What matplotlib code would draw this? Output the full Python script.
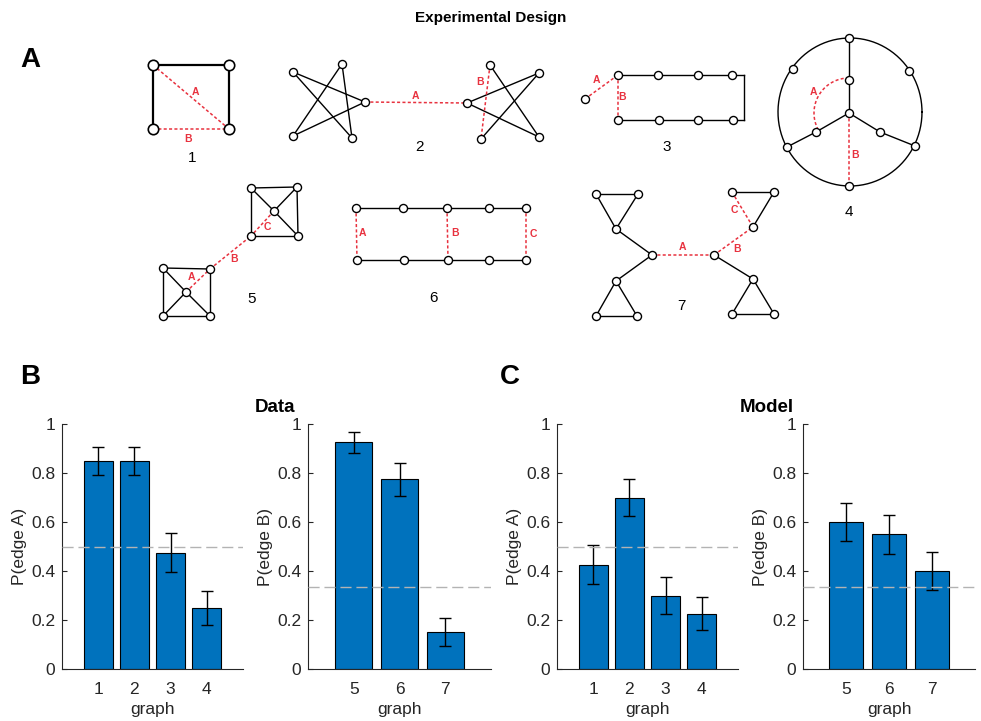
import numpy as np
import matplotlib
matplotlib.use("Agg")
import matplotlib.pyplot as plt

plt.rcParams['font.family'] = ['Liberation Sans', 'DejaVu Sans']

# ---- bar data ----
graphs_a = [1, 2, 3, 4]
graphs_b = [5, 6, 7]
data_a = [0.85, 0.85, 0.475, 0.25]
data_a_err = [0.057, 0.057, 0.08, 0.07]
data_b = [0.925, 0.775, 0.15]
data_b_err = [0.044, 0.067, 0.057]
model_a = [0.425, 0.70, 0.30, 0.225]
model_a_err = [0.08, 0.074, 0.074, 0.067]
model_b = [0.60, 0.55, 0.40]
model_b_err = [0.079, 0.079, 0.079]
chance_a = 0.5
chance_b = 1 / 3

# ---- network sketches (pixel positions of nodes, edges by index) ----
RED = '#e8323f'
# each graph: nodes, black edges, red dashed edges, edge labels, number label
g1_nodes = [(153, 65), (229, 65), (153, 129), (229, 129)]
g1_black = [(0, 1), (0, 2), (1, 3)]
g1_red = [(0, 3), (2, 3)]
g1_text = [('A', 195, 92), ('B', 188, 139), ('1', 192, 158)]

g2_nodes = [(293, 72), (342, 64), (365, 102), (293, 136), (352, 138),
            (467, 103), (490, 65), (539, 73), (539, 137), (481, 139)]
g2_black = [(2, 0), (0, 4), (4, 1), (1, 3), (3, 2),
            (5, 7), (7, 9), (6, 8), (8, 5)]
g2_red = [(2, 5), (6, 9)]
g2_text = [('A', 415, 96), ('B', 480, 82), ('2', 419, 147)]

g3_nodes = [(618, 75), (658, 75), (698, 75), (732, 75),
            (618, 120), (659, 120), (698, 120), (733, 120), (585, 99),
            (744, 75), (744, 120)]
g3_black = [(0, 1), (1, 2), (2, 3), (3, 9), (9, 10), (10, 7), (7, 6), (6, 5), (5, 4)]
g3_red = [(8, 0), (0, 4)]
g3_hidden = [9, 10]
g3_text = [('A', 596, 80), ('B', 622, 97), ('3', 667, 147)]

g4_nodes = [(849, 38), (793, 69), (909, 71), (787, 147), (915, 146), (849, 186),
            (849, 113), (849, 80), (816, 132), (880, 132)]
g4_black = [(0, 7), (7, 6), (6, 8), (8, 3), (6, 9), (9, 4)]
g4_red = [(6, 5)]
g4_circle = (850, 112, 72, 74)
g4_arc = (849, 113, 35, 90, 206)
g4_text = [('A', 813, 92), ('B', 855, 155), ('4', 849, 212)]

g5_nodes = [(251, 188), (297, 187), (251, 236), (298, 236), (274, 211),
            (163, 268), (210, 269), (163, 316), (210, 316), (186, 292)]
g5_black = [(0, 1), (1, 3), (3, 2), (2, 0), (4, 0), (4, 1), (4, 3),
            (5, 6), (6, 8), (8, 7), (7, 5), (9, 5), (9, 7), (9, 8)]
g5_red = [(4, 2), (9, 6), (6, 2)]
g5_text = [('C', 267, 227), ('A', 191, 277), ('B', 234, 259), ('5', 252, 299)]

g6_nodes = [(356, 208), (403, 208), (447, 208), (489, 208), (526, 208),
            (357, 260), (404, 260), (448, 260), (489, 260), (526, 260)]
g6_black = [(0, 1), (1, 2), (2, 3), (3, 4), (5, 6), (6, 7), (7, 8), (8, 9)]
g6_red = [(0, 5), (2, 7), (4, 9)]
g6_text = [('A', 362, 233), ('B', 455, 233), ('C', 533, 234), ('6', 433, 298)]

g7_nodes = [(652, 255), (616, 229), (596, 194), (638, 194),
            (616, 281), (596, 316), (637, 316),
            (714, 255), (753, 227), (732, 192), (774, 192),
            (753, 279), (732, 314), (774, 314)]
g7_black = [(0, 1), (1, 2), (2, 3), (3, 1), (0, 4), (4, 5), (5, 6), (6, 4),
            (9, 10), (10, 8), (7, 11), (11, 12), (12, 13), (13, 11)]
g7_red = [(0, 7), (7, 8), (9, 8)]
g7_text = [('A', 682, 247), ('B', 737, 249), ('C', 734, 210), ('7', 681, 306)]

W, H = 981, 721
fig = plt.figure(figsize=(W / 100, H / 100), dpi=100)

ax0 = fig.add_axes([0, 0, 1, 1])
ax0.set_xlim(0, W)
ax0.set_ylim(H, 0)
ax0.axis('off')


def draw_graph(ax, nodes, black, red, texts, hidden=(), big=False):
    nodes = np.array(nodes, dtype=float)
    lw = 1.6 if big else 1.0
    ms = 7.5 if big else 5.8
    for i, j in black:
        ax.plot(nodes[[i, j], 0], nodes[[i, j], 1], color='black', lw=lw, zorder=1)
    for i, j in red:
        ax.plot(nodes[[i, j], 0], nodes[[i, j], 1], color=RED, lw=1.1,
                ls=(0, (2, 1.5)), zorder=1)
    show = [k for k in range(len(nodes)) if k not in hidden]
    ax.plot(nodes[show, 0], nodes[show, 1], 'o', ms=ms, mfc='white',
            mec='black', mew=1.2 if big else 1.0, ls='none', zorder=3)
    for s, x, y in texts:
        if s.isdigit():
            ax.text(x, y, s, ha='center', va='center', fontsize=11, color='black')
        else:
            ax.text(x, y, s, ha='center', va='center', fontsize=7.5,
                    color=RED, fontweight='bold')


draw_graph(ax0, g1_nodes, g1_black, g1_red, g1_text, big=True)
draw_graph(ax0, g2_nodes, g2_black, g2_red, g2_text)
draw_graph(ax0, g3_nodes, g3_black, g3_red, g3_text, hidden=g3_hidden)
draw_graph(ax0, g5_nodes, g5_black, g5_red, g5_text)
draw_graph(ax0, g6_nodes, g6_black, g6_red, g6_text)
draw_graph(ax0, g7_nodes, g7_black, g7_red, g7_text)

# graph 4: circle + curved red edge
cx, cy, rx, ry = g4_circle
t = np.linspace(0, 2 * np.pi, 300)
ax0.plot(cx + rx * np.cos(t), cy + ry * np.sin(t), color='black', lw=1.0, zorder=1)
ax_, ay_, ar, a0, a1 = g4_arc
t = np.radians(np.linspace(a0, a1, 60))
ax0.plot(ax_ + ar * np.cos(t), ay_ - ar * np.sin(t), color=RED, lw=1.1,
         ls=(0, (2, 1.5)), zorder=1)
draw_graph(ax0, g4_nodes, g4_black, g4_red, g4_text)

fig.text(491 / W, 1 - 18 / H, 'Experimental Design', ha='center', va='center',
         fontsize=11, fontweight='bold')
fig.text(30 / W, 1 - 60 / H, 'A', ha='center', va='center', fontsize=20, fontweight='bold')
fig.text(30 / W, 1 - 377 / H, 'B', ha='center', va='center', fontsize=20, fontweight='bold')
fig.text(510 / W, 1 - 377 / H, 'C', ha='center', va='center', fontsize=20, fontweight='bold')
fig.text(275 / W, 1 - 408 / H, 'Data', ha='center', va='center', fontsize=13.5, fontweight='bold')
fig.text(767 / W, 1 - 408 / H, 'Model', ha='center', va='center', fontsize=13.5, fontweight='bold')

BLUE = '#0072BD'
GREY = '#262626'


def bar_panel(rect, xs, vals, errs, chance, ylabel, xlim):
    ax = fig.add_axes(rect)
    ax.bar(xs, vals, 0.8, color=BLUE, edgecolor='black', lw=0.8, zorder=2)
    ax.errorbar(xs, vals, yerr=errs, fmt='none', ecolor='black', elinewidth=1.0,
                capsize=4, capthick=1.0, zorder=3)
    ax.axhline(chance, color='#b3b3b3', lw=1.0, ls=(0, (8, 3.5)), zorder=4)
    ax.set_xlim(*xlim)
    ax.set_ylim(0, 1)
    ax.set_xticks(xs)
    ax.set_yticks([0, 0.2, 0.4, 0.6, 0.8, 1])
    ax.set_yticklabels(['0', '0.2', '0.4', '0.6', '0.8', '1'])
    for s in ['top', 'right']:
        ax.spines[s].set_visible(False)
    for s in ['left', 'bottom']:
        ax.spines[s].set_color(GREY)
        ax.spines[s].set_linewidth(0.8)
    ax.tick_params(direction='in', length=3.5, width=0.8, colors=GREY,
                   labelsize=12.5, pad=5)
    ax.tick_params(axis='x', length=0, pad=9)
    ax.set_xlabel('graph', fontsize=12.5, color=GREY, labelpad=4)
    ax.set_ylabel(ylabel, fontsize=12.5, color=GREY, labelpad=3)
    return ax


yb = (H - 669) / H
hh = 245 / H
bar_panel([62 / W, yb, 181 / W, hh], graphs_a, data_a, data_a_err, chance_a,
          'P(edge A)', (0, 5))
bar_panel([308 / W, yb, 183 / W, hh], graphs_b, data_b, data_b_err, chance_b,
          'P(edge B)', (4, 8))
bar_panel([557 / W, yb, 181 / W, hh], graphs_a, model_a, model_a_err, chance_a,
          'P(edge A)', (0, 5))
bar_panel([803 / W, yb, 172 / W, hh], graphs_b, model_b, model_b_err, chance_b,
          'P(edge B)', (4, 8))

fig.savefig('out.png', dpi=100)
